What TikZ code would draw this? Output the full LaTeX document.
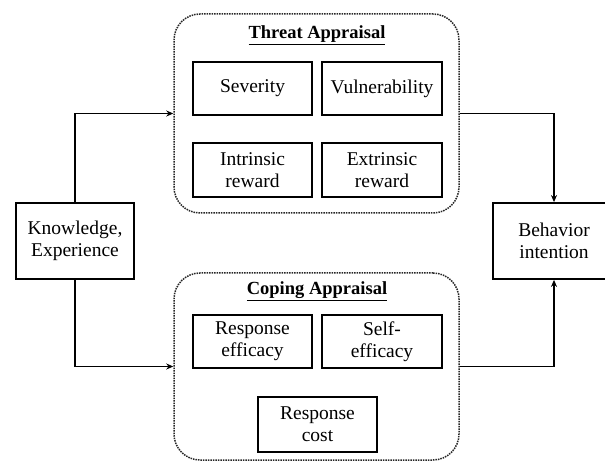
\documentclass[tikz,border=0pt]{standalone}
\usepackage{fontspec}
\setmainfont{Liberation Serif}
\usetikzlibrary{arrows.meta}
\tikzset{
  inbox/.style={draw=black, line width=1.8pt, align=center, inner sep=0pt,
    font=\fontsize{19.5}{22}\selectfont},
  group/.style={draw=black!85, densely dotted, line width=1.5pt, rounded corners=26pt},
  title/.style={font=\fontsize{18.5}{21}\selectfont\bfseries, inner sep=0pt},
  conn/.style={line width=1.5pt, -{Stealth[length=7pt,width=6pt]}}
}
\begin{document}
\begin{tikzpicture}[x=1pt,y=-1pt]
\useasboundingbox (0,0) rectangle (605,462);
% groups
\node[group, minimum width=285pt, minimum height=199pt] (threat) at (316.5,113.5) {};
\node[group, minimum width=285pt, minimum height=187pt] (coping) at (316.5,366.5) {};
\node[title] (ttitle) at (317,35) {\underline{Threat Appraisal}};
\node[title] (ctitle) at (317,291) {\underline{Coping Appraisal}};
% inner boxes
\node[inbox, minimum width=119pt, minimum height=53pt] (sev) at (252.5,88.5) {Severity};
\node[inbox, minimum width=120pt, minimum height=53pt] (vul) at (382,88.5) {Vulnerability};
\node[inbox, minimum width=119pt, minimum height=54pt] (intr) at (252.5,170) {Intrinsic\\reward};
\node[inbox, minimum width=120pt, minimum height=54pt] (extr) at (382,170) {Extrinsic\\reward};
\node[inbox, minimum width=119pt, minimum height=53pt] (reff) at (252.5,341.5) {Response\\efficacy};
\node[inbox, minimum width=120pt, minimum height=53pt] (seff) at (382,341.5) {Self-\\efficacy};
\node[inbox, minimum width=119pt, minimum height=55pt] (rcost) at (317.5,424.5) {Response\\cost};
% outer boxes
\node[inbox, minimum width=118pt, minimum height=76pt] (know) at (75,241) {Knowledge,\\Experience};
\node[inbox, minimum width=122pt, minimum height=76pt] (beh) at (554,241) {Behavior\\intention};
% connectors
\draw[conn] (know.north) |- (threat.west);
\draw[conn] (know.south) |- (coping.west);
\draw[conn] (threat.east) -| (beh.north);
\draw[conn] (coping.east) -| (beh.south);
\end{tikzpicture}
\end{document}
